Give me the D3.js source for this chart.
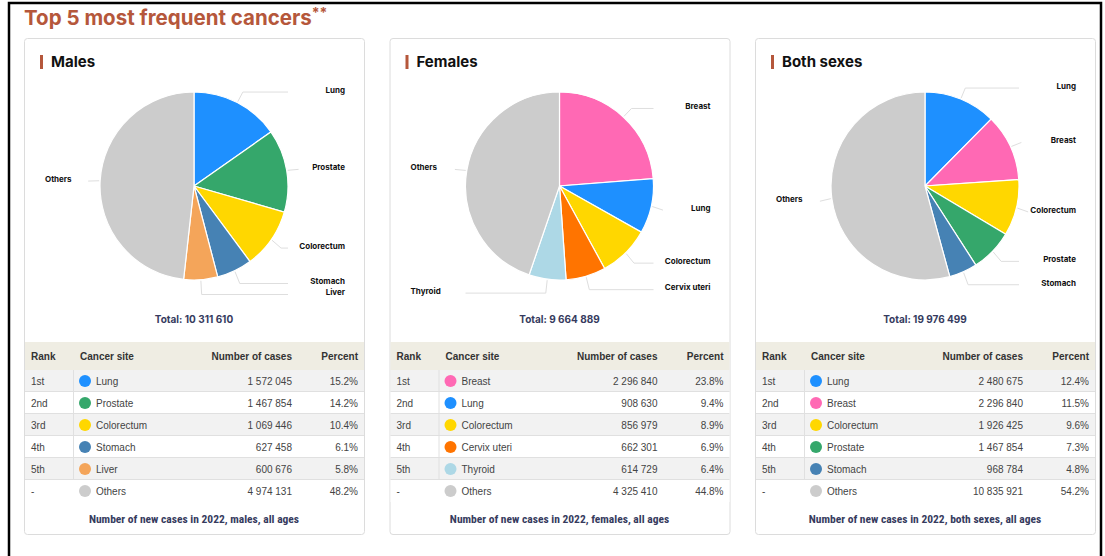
<!DOCTYPE html>
<html>
<head>
<meta charset="utf-8">
<script src="https://cdn.jsdelivr.net/npm/d3@7"></script>
<style>
  body { margin: 0; background: #fff; }
  svg { display: block; }
</style>
</head>
<body>
<div id="chart"></div>
<script>
// chart data
var panelTitles = ["Males", "Females", "Both sexes"];
var footNotes = ["Number of new cases in 2022, males, all ages",
                 "Number of new cases in 2022, females, all ages",
                 "Number of new cases in 2022, both sexes, all ages"];
var totals = [10311610, 9664889, 19976499];
var ranks = ["1st", "2nd", "3rd", "4th", "5th", "-"];

var malesSites = ["Lung", "Prostate", "Colorectum", "Stomach", "Liver", "Others"];
var malesCases = [1572045, 1467854, 1069446, 627458, 600676, 4974131];
var malesPercent = ["15.2%", "14.2%", "10.4%", "6.1%", "5.8%", "48.2%"];

var femalesSites = ["Breast", "Lung", "Colorectum", "Cervix uteri", "Thyroid", "Others"];
var femalesCases = [2296840, 908630, 856979, 662301, 614729, 4325410];
var femalesPercent = ["23.8%", "9.4%", "8.9%", "6.9%", "6.4%", "44.8%"];

var bothSites = ["Lung", "Breast", "Colorectum", "Prostate", "Stomach", "Others"];
var bothCases = [2480675, 2296840, 1926425, 1467854, 968784, 10835921];
var bothPercent = ["12.4%", "11.5%", "9.6%", "7.3%", "4.8%", "54.2%"];

var siteColor = {
  "Lung": "#1e90ff", "Prostate": "#35a76b", "Colorectum": "#ffd700",
  "Stomach": "#4682b4", "Liver": "#f4a55a", "Others": "#cccccc",
  "Breast": "#ff69b4", "Cervix uteri": "#ff7400", "Thyroid": "#add8e6"
};

var panels = [
  {sites: malesSites, cases: malesCases, pct: malesPercent},
  {sites: femalesSites, cases: femalesCases, pct: femalesPercent},
  {sites: bothSites, cases: bothCases, pct: bothPercent}
];

var W = 1105, H = 556;
var PANEL_W = 340, PANEL_STEP = 365.5, PANEL_X0 = 24, PANEL_Y = 38, PANEL_H = 496;
var RADIUS = 94, PIE_CY = 186;
var TITLE_COLOR = "#b5573b", NAVY = "#363b5e";
var ROW_H = 22, HEAD_Y = 342, HEAD_H = 28;

var fmt = function(v) { return d3.format(",")(v).replace(/,/g, " "); };

var svg = d3.select("#chart").append("svg")
  .attr("width", W).attr("height", H);

svg.append("rect").attr("width", W).attr("height", H).attr("fill", "#fff");

// outer frame
svg.append("path")
  .attr("d", "M9,556 V3 H1101 V556")
  .attr("fill", "none").attr("stroke", "#000").attr("stroke-width", 2.5);

// main title
var title = svg.append("text")
  .attr("x", 24).attr("y", 25)
  .attr("font-family", "Inter, Roboto, sans-serif")
  .attr("font-weight", 700)
  .attr("font-size", "20.5px")
  .attr("fill", TITLE_COLOR)
  .text("Top 5 most frequent cancers");
title.append("tspan").attr("dy", -7).attr("font-size", "14px").text("**");

panels.forEach(function(p, i) {
  var px = PANEL_X0 + i * PANEL_STEP;
  var cx = px + 170;
  var g = svg.append("g");

  g.append("rect")
    .attr("x", px + 0.5).attr("y", PANEL_Y + 0.5)
    .attr("width", PANEL_W).attr("height", PANEL_H)
    .attr("rx", 3)
    .attr("fill", "#fff").attr("stroke", "#dcdcdc");

  // header
  g.append("rect").attr("x", px + 16).attr("y", 55).attr("width", 3).attr("height", 14)
    .attr("fill", TITLE_COLOR);
  g.append("text").attr("x", px + 27).attr("y", 67)
    .attr("font-family", "Inter, Roboto, sans-serif").attr("font-weight", 700)
    .attr("font-size", "15px").attr("fill", "#111")
    .text(panelTitles[i]);

  var data = p.sites.map(function(s, j) {
    return {site: s, cases: p.cases[j], pct: p.pct[j], rank: ranks[j]};
  });

  var pie = d3.pie().sort(null).value(function(d) { return d.cases; });
  var arc = d3.arc().innerRadius(0).outerRadius(RADIUS);
  var arcs = pie(data);

  var pieG = g.append("g").attr("transform", "translate(" + cx + "," + PIE_CY + ")");
  pieG.selectAll("path")
    .data(arcs)
    .enter()
    .append("path")
    .attr("d", arc)
    .attr("fill", function(d) { return siteColor[d.data.site]; })
    .attr("stroke", "#fff")
    .attr("stroke-width", 1.2);

  // label positions
  var labels = arcs.map(function(d) {
    var a = (d.startAngle + d.endAngle) / 2;
    return {
      a: a,
      site: d.data.site,
      right: Math.sin(a) >= 0,
      y: PIE_CY - 107 * Math.cos(a) + 1
    };
  });
  // keep right-hand labels from touching
  var rightLabels = labels.filter(function(l) { return l.right; })
    .sort(function(a, b) { return a.y - b.y; });
  for (var k = 1; k < rightLabels.length; k++) {
    if (rightLabels[k].y - rightLabels[k - 1].y < 11) {
      rightLabels[k].y = rightLabels[k - 1].y + 11;
    }
  }

  var conn = g.append("g");
  labels.forEach(function(l) {
    var sx = Math.sin(l.a), cy_ = -Math.cos(l.a);
    var x0 = cx + (RADIUS + 1) * sx, y0 = PIE_CY + (RADIUS + 1) * cy_;
    var bx = cx + (RADIUS + 12) * sx;
    var ex = l.right ? Math.max(bx, cx + RADIUS) : Math.min(bx, cx - RADIUS);
    conn.append("path")
      .attr("d", "M" + x0 + "," + y0 + " L" + bx + "," + l.y + " L" + ex + "," + l.y)
      .attr("fill", "none").attr("stroke", "#dedede").attr("stroke-width", 1);
    g.append("text")
      .attr("x", l.right ? px + 321 : px + 21)
      .attr("y", l.y - 2)
      .attr("dy", "0.35em")
      .attr("text-anchor", l.right ? "end" : "start")
      .attr("font-family", "Inter, Roboto, sans-serif")
      .attr("font-weight", 700).attr("font-size", "8px").attr("fill", "#111")
      .text(l.site);
  });

  // total
  g.append("text").attr("x", cx).attr("y", 323)
    .attr("text-anchor", "middle")
    .attr("font-family", "Inter, Roboto, sans-serif").attr("font-weight", 700)
    .attr("font-size", "10px").attr("fill", NAVY)
    .text("Total: " + fmt(totals[i]));

  // table
  var tx = px + 1, tw = PANEL_W - 1;
  var colX = {rank: px + 7, site: px + 56, cases: px + 268, pct: px + 334};
  g.append("rect").attr("x", tx).attr("y", HEAD_Y).attr("width", tw).attr("height", HEAD_H)
    .attr("fill", "#efede3");
  var head = [["Rank", colX.rank, "start"], ["Cancer site", colX.site, "start"],
              ["Number of cases", colX.cases, "end"], ["Percent", colX.pct, "end"]];
  head.forEach(function(h) {
    g.append("text").attr("x", h[1]).attr("y", HEAD_Y + HEAD_H / 2).attr("dy", "0.35em")
      .attr("text-anchor", h[2])
      .attr("font-family", "'Liberation Sans', Arial, sans-serif").attr("font-weight", 700)
      .attr("font-size", "10px").attr("fill", "#333")
      .text(h[0]);
  });

  var rows = g.append("g").selectAll("g")
    .data(data).enter().append("g")
    .attr("transform", function(d, j) { return "translate(0," + (HEAD_Y + HEAD_H + j * ROW_H) + ")"; });

  rows.append("rect").attr("x", tx).attr("width", tw).attr("height", ROW_H)
    .attr("fill", function(d, j) { return j % 2 === 0 ? "#f2f2f2" : "#fff"; });
  rows.filter(function(d, j) { return j < data.length - 1; })
    .append("line").attr("x1", tx).attr("x2", tx + tw).attr("y1", ROW_H - 0.5).attr("y2", ROW_H - 0.5)
    .attr("stroke", "#e0e0e0");
  rows.filter(function(d, j) { return j < data.length - 1; })
    .append("line").attr("x1", px + 49.5).attr("x2", px + 49.5).attr("y1", 0).attr("y2", ROW_H)
    .attr("stroke", "#e0e0e0");
  rows.append("circle").attr("cx", px + 61).attr("cy", ROW_H / 2).attr("r", 6)
    .attr("fill", function(d) { return siteColor[d.site]; });

  var cell = function(sel, x, anchor, fn) {
    sel.append("text").attr("x", x).attr("y", ROW_H / 2).attr("dy", "0.35em")
      .attr("text-anchor", anchor)
      .attr("font-family", "'Liberation Sans', Arial, sans-serif")
      .attr("font-size", "10px").attr("fill", "#444")
      .text(fn);
  };
  cell(rows, colX.rank, "start", function(d) { return d.rank; });
  cell(rows, px + 72, "start", function(d) { return d.site; });
  cell(rows, colX.cases, "end", function(d) { return fmt(d.cases); });
  cell(rows, colX.pct, "end", function(d) { return d.pct; });

  // footnote
  g.append("text").attr("x", cx).attr("y", 519).attr("dy", "0.35em")
    .attr("text-anchor", "middle")
    .attr("font-family", "'Liberation Sans Narrow', 'Roboto Condensed', Roboto, sans-serif")
    .attr("font-weight", 700).attr("font-size", "11.5px").attr("fill", NAVY)
    .text(footNotes[i]);
});
</script>
</body>
</html>
